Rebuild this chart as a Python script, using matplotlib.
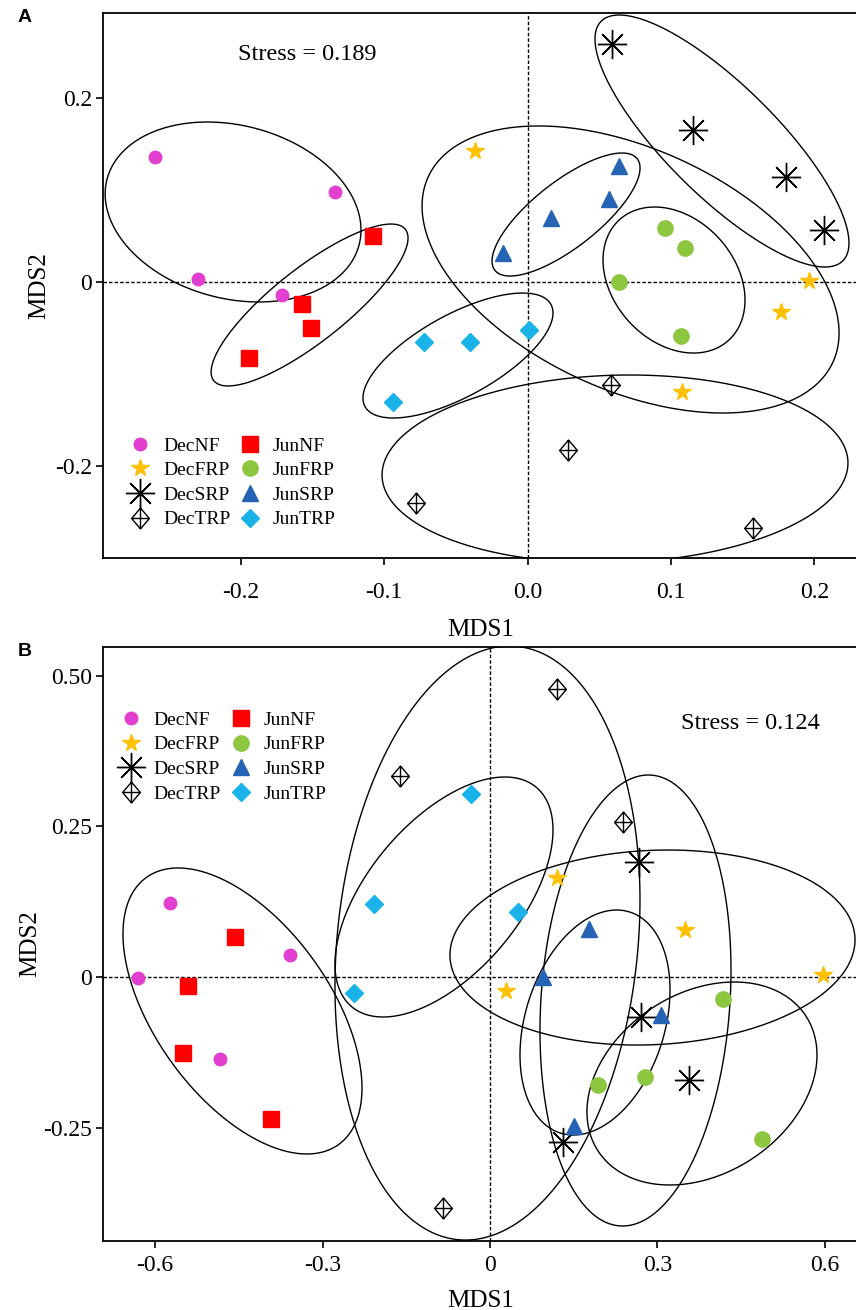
import numpy as np
import matplotlib.pyplot as plt
from matplotlib.path import Path
from matplotlib.patches import Polygon

plt.rcParams['font.family'] = ['Liberation Serif', 'DejaVu Serif']
plt.rcParams['axes.unicode_minus'] = False

groups = ['DecNF', 'DecFRP', 'DecSRP', 'DecTRP', 'JunNF', 'JunFRP', 'JunSRP', 'JunTRP']

# ---- panel A: NMDS scores (MDS1, MDS2), one list per group
a_x = [[-0.260, -0.134, -0.230, -0.171],
       [-0.037, 0.196, 0.177, 0.108],
       [0.059, 0.115, 0.180, 0.207],
       [0.058, 0.028, -0.078, 0.157],
       [-0.108, -0.157, -0.151, -0.194],
       [0.096, 0.110, 0.064, 0.107],
       [0.064, 0.057, 0.016, -0.017],
       [0.001, -0.040, -0.072, -0.094]]
a_y = [[0.136, 0.098, 0.003, -0.014],
       [0.142, 0.001, -0.033, -0.120],
       [0.259, 0.165, 0.114, 0.057],
       [-0.112, -0.183, -0.240, -0.267],
       [0.050, -0.024, -0.050, -0.083],
       [0.059, 0.037, 0.000, -0.059],
       [0.126, 0.090, 0.070, 0.032],
       [-0.052, -0.065, -0.065, -0.130]]

# group ellipses in A: extents and the MDS2 value at the rightmost point
a_ell_left = [-0.2946, -0.0736, 0.0470, -0.1015, -0.2207, 0.0526, -0.0248, -0.1148]
a_ell_right = [-0.1162, 0.2172, 0.2241, 0.2234, -0.0834, 0.1516, 0.0784, 0.0177]
a_ell_bottom = [-0.0217, -0.1424, 0.0163, -0.3054, -0.1130, -0.0772, 0.0065, -0.1478]
a_ell_top = [0.1739, 0.1696, 0.2902, -0.1011, 0.0630, 0.0815, 0.1402, -0.0120]
a_ell_yright = [0.0565, -0.0554, 0.0424, -0.1967, 0.0478, -0.0196, 0.1239, -0.0337]

# ---- panel B
b_x = [[-0.574, -0.631, -0.358, -0.484],
       [0.120, 0.349, 0.597, 0.029],
       [0.267, 0.271, 0.357, 0.131],
       [-0.161, 0.120, 0.238, -0.084],
       [-0.457, -0.541, -0.550, -0.392],
       [0.418, 0.278, 0.194, 0.488],
       [0.177, 0.095, 0.306, 0.151],
       [-0.208, -0.244, -0.034, 0.050]]
b_y = [[0.123, -0.002, 0.036, -0.136],
       [0.164, 0.078, 0.003, -0.023],
       [0.191, -0.066, -0.171, -0.274],
       [0.333, 0.478, 0.257, -0.383],
       [0.066, -0.015, -0.126, -0.235],
       [-0.036, -0.166, -0.179, -0.269],
       [0.080, 0.000, -0.063, -0.247],
       [0.121, -0.027, 0.303, 0.108]]

b_ell_left = [-0.6577, -0.0717, 0.0896, -0.2778, 0.1738, 0.0538, -0.2778]
b_ell_right = [-0.2294, 0.6541, 0.4319, 0.2688, 0.5860, 0.3226, 0.1129]
b_ell_bottom = [-0.2935, -0.1128, -0.4129, -0.4362, -0.3449, -0.2620, -0.0663]
b_ell_top = [0.1808, 0.2106, 0.3350, 0.5489, -0.0083, 0.1111, 0.3317]
b_ell_yright = [-0.1841, 0.0614, 0.0116, 0.1277, -0.1294, -0.0216, 0.2438]

a_xticks = [-0.2, -0.1, 0.0, 0.1, 0.2]
a_xticklabels = ['-0.2', '-0.1', '0.0', '0.1', '0.2']
a_yticks = [-0.2, 0.0, 0.2]
a_yticklabels = ['-0.2', '0', '0.2']
b_xticks = [-0.6, -0.3, 0.0, 0.3, 0.6]
b_xticklabels = ['-0.6', '-0.3', '0', '0.3', '0.6']
b_yticks = [-0.25, 0.0, 0.25, 0.5]
b_yticklabels = ['-0.25', '0', '0.25', '0.50']

# diamond with a cross inside (like R pch 9)
diamond_plus = Path([(0, 1), (0.85, 0), (0, -1), (-0.85, 0), (0, 1),
                     (0, 1), (0, -1), (-0.85, 0), (0.85, 0)],
                    [Path.MOVETO, Path.LINETO, Path.LINETO, Path.LINETO, Path.CLOSEPOLY,
                     Path.MOVETO, Path.LINETO, Path.MOVETO, Path.LINETO])

styles = {
    'DecNF': dict(marker='o', ms=9, mfc='#e23fd0', mec='#e23fd0'),
    'DecFRP': dict(marker='*', ms=13, mfc='#ffc000', mec='#ffc000'),
    'DecSRP': dict(marker=(8, 2, 0), ms=21, mfc='none', mec='black', mew=1.0),
    'DecTRP': dict(marker=diamond_plus, ms=15, mfc='none', mec='black', mew=1.0),
    'JunNF': dict(marker='s', ms=11, mfc='#ff0000', mec='#ff0000'),
    'JunFRP': dict(marker='o', ms=11, mfc='#8dc63f', mec='#8dc63f'),
    'JunSRP': dict(marker='^', ms=11, mfc='#2563b5', mec='#2563b5'),
    'JunTRP': dict(marker='D', ms=9, mfc='#19b2e9', mec='#19b2e9'),
}


def draw_ellipses(ax, left, right, bottom, top, yright):
    # ellipse = centre + u*cos(t) + v*sin(t), u points to the rightmost point
    t = np.linspace(0, 2 * np.pi, 400, endpoint=False)
    for x0, x1, y0, y1, yr in zip(left, right, bottom, top, yright):
        cx, cy = (x0 + x1) / 2, (y0 + y1) / 2
        hw, hh = (x1 - x0) / 2, (y1 - y0) / 2
        dr = yr - cy
        k = np.sqrt(max(hh ** 2 - dr ** 2, 0))
        pts = np.column_stack([cx + hw * np.cos(t),
                               cy + dr * np.cos(t) + k * np.sin(t)])
        ax.add_patch(Polygon(pts, closed=True, fill=False, edgecolor='black',
                             lw=1.0, zorder=2))


def draw_panel(ax, xs, ys, ell, xlim, ylim, xt, xtl, yt, ytl,
               stress, stress_pos, leg_anchor, xpad, xlabelpad, ylabelpad):
    ax.axhline(0, color='black', lw=1.0, ls=(0, (2.5, 1.5)), zorder=1)
    ax.axvline(0, color='black', lw=1.0, ls=(0, (2.5, 1.5)), zorder=1)
    draw_ellipses(ax, *ell)
    for g, x, y in zip(groups, xs, ys):
        ax.plot(x, y, ls='none', label=g, zorder=3, **styles[g])
    ax.set_xlim(*xlim)
    ax.set_ylim(*ylim)
    ax.set_xticks(xt)
    ax.set_xticklabels(xtl)
    ax.set_yticks(yt)
    ax.set_yticklabels(ytl)
    ax.tick_params(axis='both', direction='out', length=5, width=1.2, labelsize=17)
    ax.tick_params(axis='x', pad=xpad)
    ax.tick_params(axis='y', pad=3)
    ax.set_xlabel('MDS1', fontsize=18, labelpad=xlabelpad)
    ax.set_ylabel('MDS2', fontsize=18, labelpad=ylabelpad)
    ax.spines['right'].set_visible(False)
    for s in ['left', 'bottom', 'top']:
        ax.spines[s].set_linewidth(1.3)
    ax.text(stress_pos[0], stress_pos[1], stress, transform=ax.transAxes,
            fontsize=17.5, ha='center', va='center')
    ax.legend(loc='upper left', bbox_to_anchor=leg_anchor, ncol=2, frameon=False,
              fontsize=14, numpoints=1, handlelength=1.2, handletextpad=0.6,
              columnspacing=0.4, labelspacing=0.36, borderpad=0, borderaxespad=0)


fig = plt.figure(figsize=(8.56, 13.10), dpi=100)
W, H = 856, 1310

ax_a = fig.add_axes([103 / W, 1 - 558 / H, 755 / W, 545 / H])
draw_panel(ax_a, a_x, a_y,
           (a_ell_left, a_ell_right, a_ell_bottom, a_ell_top, a_ell_yright),
           (-0.2961, 0.2304), (-0.300, 0.2924),
           a_xticks, a_xticklabels, a_yticks, a_yticklabels,
           'Stress = 0.189', (0.270, 0.923), (0.033, 0.222), 12, 12, 3)

ax_b = fig.add_axes([103 / W, 1 - 1241 / H, 755 / W, 594 / H])
draw_panel(ax_b, b_x, b_y,
           (b_ell_left, b_ell_right, b_ell_bottom, b_ell_top, b_ell_yright),
           (-0.6935, 0.6595), (-0.4378, 0.5473),
           b_xticks, b_xticklabels, b_yticks, b_yticklabels,
           'Stress = 0.124', (0.857, 0.872), (0.021, 0.892), 5, 10, 1)

fig.text(18 / W, 1 - 18 / H, 'A', fontsize=14, fontweight='bold',
         family='Liberation Sans', ha='left', va='center')
fig.text(18 / W, 1 - 652 / H, 'B', fontsize=14, fontweight='bold',
         family='Liberation Sans', ha='left', va='center')

fig.savefig('out.png', dpi=100)
